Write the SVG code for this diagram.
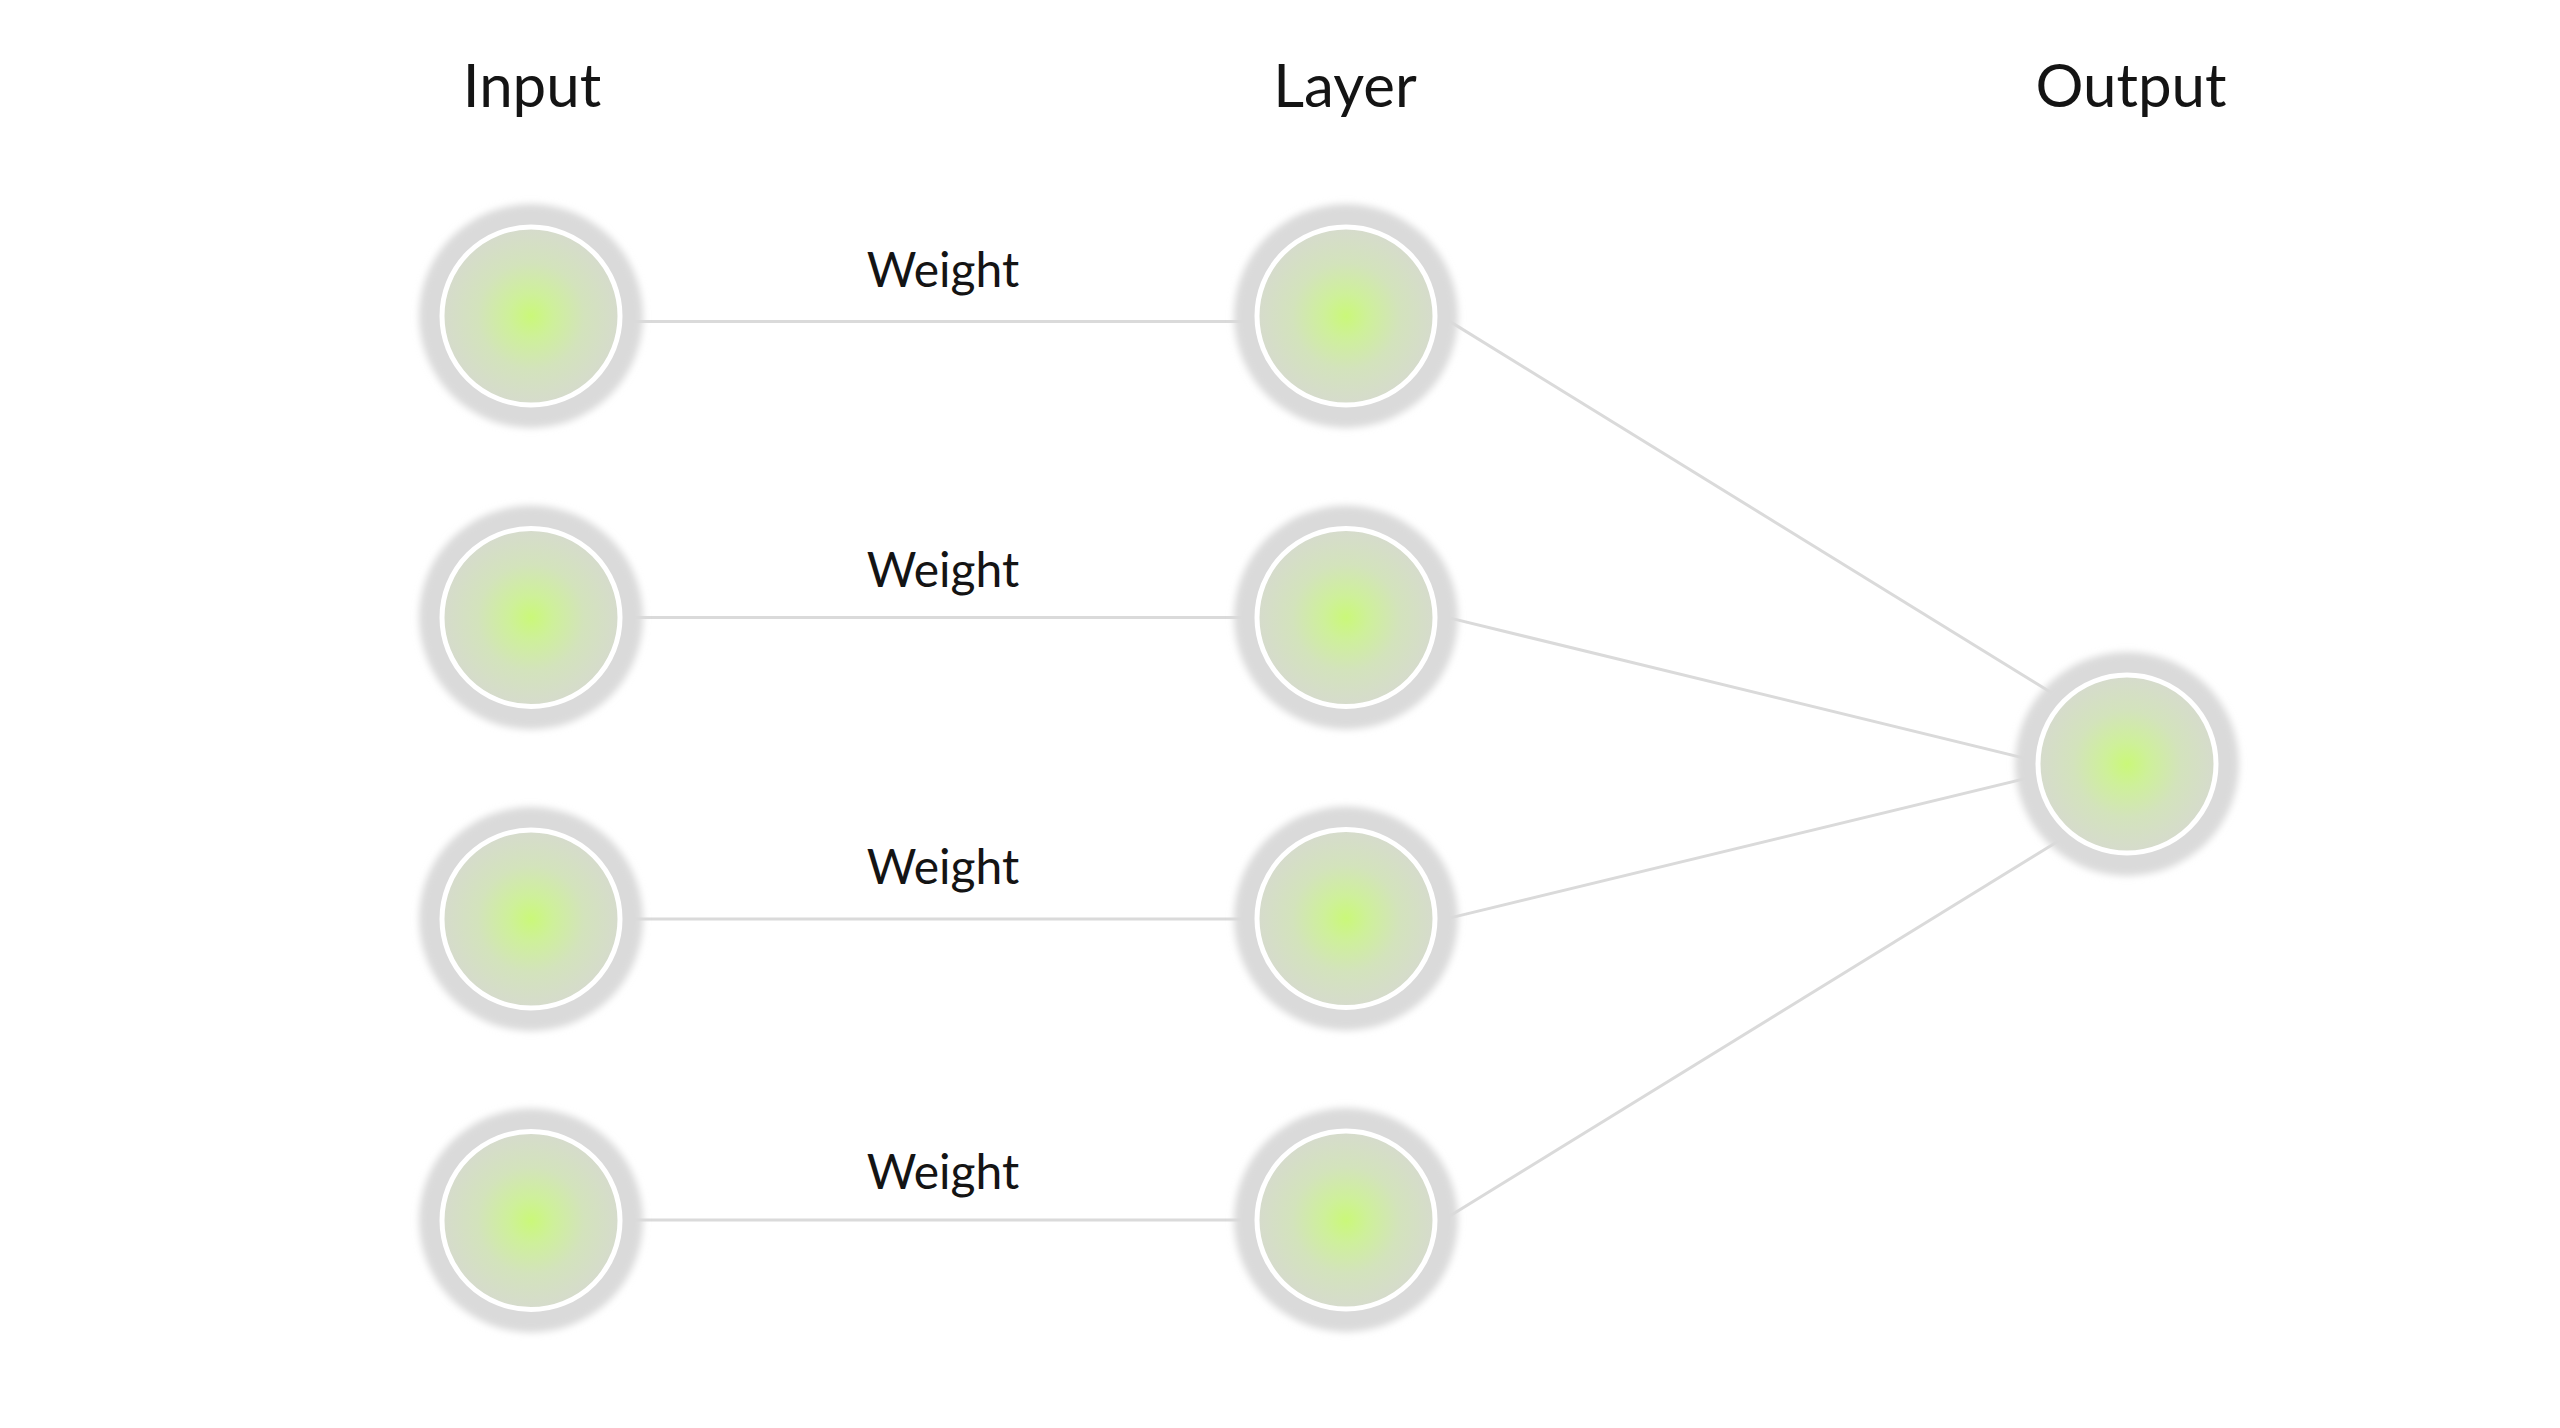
<svg xmlns="http://www.w3.org/2000/svg" width="2560" height="1428" viewBox="0 0 2560 1428">
<style>
.title{font-family:Lato,"Open Sans","Liberation Sans",sans-serif;font-size:60px;fill:#141414;text-anchor:middle}
.wt{font-family:Lato,"Open Sans","Liberation Sans",sans-serif;font-size:48px;fill:#141414;text-anchor:middle}
.conn{stroke:#dadada;stroke-width:3;fill:none}
.halo{fill:#dadada;filter:url(#soft)}
.core{fill:url(#glow);stroke:#ffffff;stroke-width:5}
</style>
<defs>
<filter id="soft" x="-20%" y="-20%" width="140%" height="140%"><feGaussianBlur stdDeviation="3.5"/></filter>
<radialGradient id="glow" cx="50%" cy="50%" r="50%">
<stop offset="0" stop-color="#caf879"/>
<stop offset="0.25" stop-color="#cef09a"/>
<stop offset="0.6" stop-color="#d3e3bc"/>
<stop offset="1" stop-color="#d6dbcd"/>
</radialGradient>
<g id="node"><circle class="halo" r="112"/><circle class="core" r="89"/></g>
</defs>
<rect width="2560" height="1428" fill="#ffffff"/>
<g id="titles">
<text class="title" x="532" y="107">Input</text>
<text class="title" x="1345" y="107">Layer</text>
<text class="title" x="2131" y="107">Output</text>
</g>
<g id="connectors">
<line class="conn" x1="620" y1="321.5" x2="1260" y2="321.5"/>
<line class="conn" x1="620" y1="617.5" x2="1260" y2="617.5"/>
<line class="conn" x1="620" y1="919" x2="1260" y2="919"/>
<line class="conn" x1="620" y1="1220" x2="1260" y2="1220"/>
<line class="conn" x1="1440" y1="315.4" x2="2060" y2="698"/>
<line class="conn" x1="1440" y1="615.6" x2="2040" y2="762"/>
<line class="conn" x1="1440" y1="920.4" x2="2040" y2="775"/>
<line class="conn" x1="1440" y1="1222" x2="2065" y2="837"/>
</g>
<g id="weights">
<text class="wt" x="943" y="287">Weight</text>
<text class="wt" x="943" y="587">Weight</text>
<text class="wt" x="943" y="884">Weight</text>
<text class="wt" x="943" y="1189">Weight</text>
</g>
<g id="input1"><use href="#node" x="531" y="316"/></g>
<g id="input2"><use href="#node" x="531" y="617.5"/></g>
<g id="input3"><use href="#node" x="531" y="919"/></g>
<g id="input4"><use href="#node" x="531" y="1220.5"/></g>
<g id="layer1"><use href="#node" x="1346" y="316"/></g>
<g id="layer2"><use href="#node" x="1346" y="617.5"/></g>
<g id="layer3"><use href="#node" x="1346" y="918.5"/></g>
<g id="layer4"><use href="#node" x="1346" y="1220"/></g>
<g id="output"><use href="#node" x="2127" y="764"/></g>
</svg>
